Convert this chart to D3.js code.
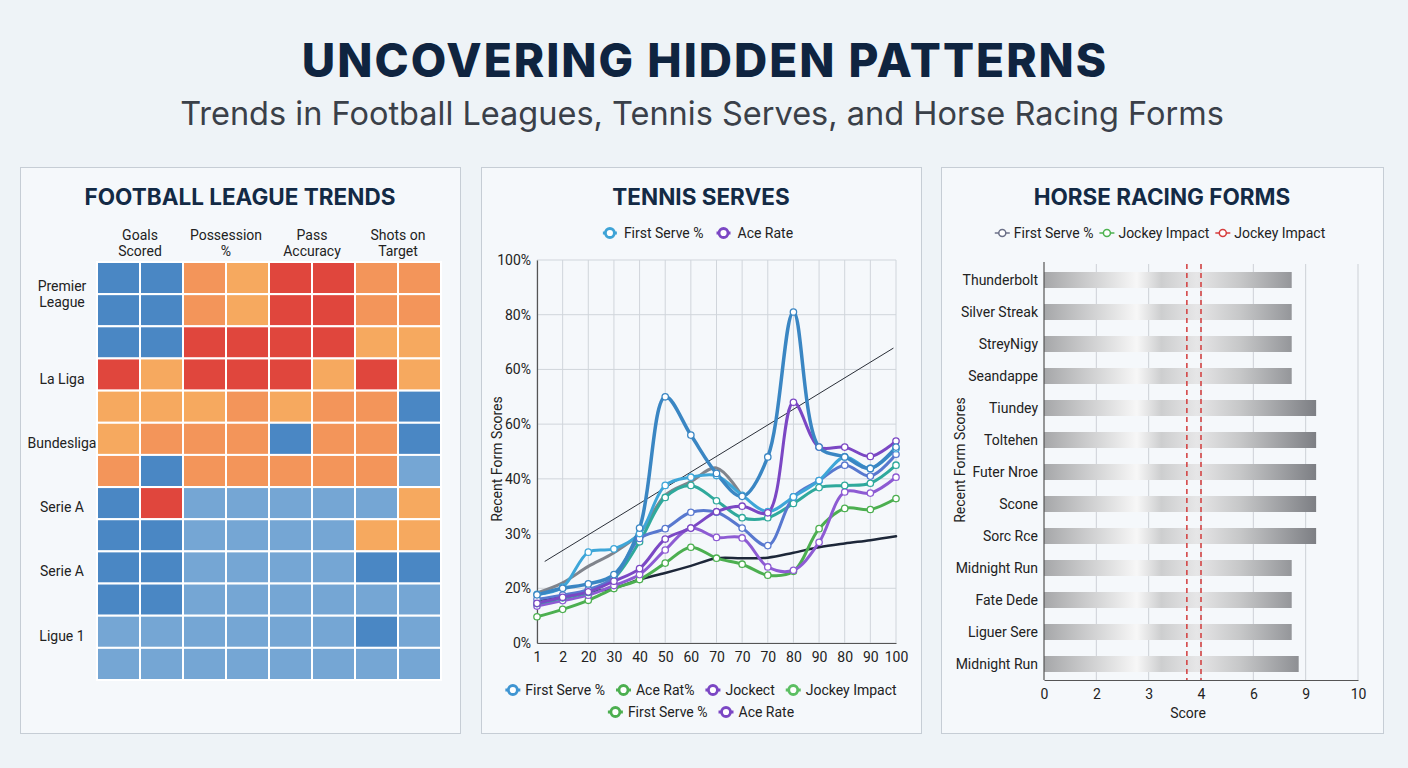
<!DOCTYPE html>
<html>
<head>
<meta charset="utf-8">
<script src="https://cdn.jsdelivr.net/npm/d3@7/dist/d3.min.js"></script>
<style>
  html, body { margin:0; padding:0; background:#eef3f7; }
  svg { display:block; }
  text { font-family: Roboto, "Liberation Sans", sans-serif; font-size:14px; fill:#222; }
  .main_title { font-family: Inter, sans-serif; font-weight:800; font-size:46px; letter-spacing:2px; fill:#0f2440; }
  .sub_title { font-family: Inter, sans-serif; font-weight:400; font-size:32.5px; fill:#3a4049; }
  .panel_title { font-family: Inter, sans-serif; font-weight:700; font-size:22.5px; fill:#132a45; }
  .tick text { font-size:14px; fill:#222; }
</style>
</head>
<body>
<svg id="main_view_svg" width="1408" height="768"></svg>
<script>
// DATA

// football heatmap: 1 = dark blue ... 5 = red
const football_metrics = [["Goals","Scored"],["Possession","%"],["Pass","Accuracy"],["Shots on","Target"]];
const football_leagues = [["Premier","League"],["La Liga"],["Bundesliga"],["Serie A"],["Serie A"],["Ligue 1"]];
const football_label_rows = [0.5, 3, 5, 7, 9, 11];
const football_levels = [1,2,3,4,5];
const heat_rows = [
  [1,1,4,3,5,5,4,4],
  [1,1,4,3,5,5,4,4],
  [1,1,5,5,5,5,3,3],
  [5,3,5,5,5,3,5,3],
  [3,3,3,4,3,4,4,1],
  [3,4,4,4,1,4,4,1],
  [4,1,4,4,4,4,4,2],
  [1,5,2,2,2,2,2,3],
  [1,1,2,2,2,2,3,3],
  [1,1,2,2,2,2,1,1],
  [1,1,2,2,2,2,2,2],
  [2,2,2,2,2,2,1,2],
  [2,2,2,2,2,2,2,2]
];

// tennis serves
const tennis_x_labels = ["1","2","20","30","40","50","60","70","70","70","80","90","80","90","100"];
const tennis_y_ticks  = [0,20,30,40,50,60,80,100];
const tennis_y_labels = ["0%","20%","30%","40%","60%","60%","80%","100%"];
const serve_trend     = [[0.3,24.9],[13.9,67.8]];
const gray_form       = [18.3,21,24,26.5,30,37,39.5,42,36.8];
const navy_form       = [15.6,17.3,18.7,20,21.6,22.8,24.1,25.5,25.5,25.6,26.5,27.5,28.2,28.8,29.5];
const ace_rat         = [9.6,12.3,15.6,19.9,21.6,24.6,27.5,25.5,24.4,22.4,23.1,30.9,34.6,34.4,36.4];
const jockect         = [13.5,15.5,17.5,20.5,22.5,27,31,29.3,29.2,23.9,23.3,28.4,37.6,37.4,40.3];
const jockey_impact   = [14.4,16.5,18.5,21.8,28.5,36.6,38.8,36,32.9,32.9,35.5,38.4,38.8,39.2,42.5];
const serve_violet    = [16,17.5,19.5,22,29.1,30.9,33.9,33.9,31,27.8,36.7,39.7,42.5,40.5,44.5];
const serve_cyan      = [17.8,20.2,26.6,27.2,30,38.8,40.3,40.6,37,34,36.7,39.7,44,41.9,45.5];
const ace_rate        = [14.5,16.7,18.7,21.3,23.6,29,31,34,35,33.8,54,45.8,45.8,44.1,46.9];
const first_serve     = [17.6,20,20.8,22.5,31,55,48,41,36.8,44,81,45.8,44,41.9,45.8];

const tennis_top_legend = [["First Serve %","#3ea3d6"],["Ace Rate","#7b47c4"]];
const tennis_bottom_legend_1 = [["First Serve %","#3f95d2"],["Ace Rat%","#4caf50"],["Jockect","#7b47c4"],["Jockey Impact","#5cbf63"]];
const tennis_bottom_legend_2 = [["First Serve %","#4caf50"],["Ace Rate","#7b47c4"]];

// horse racing
const horse_names  = ["Thunderbolt","Silver Streak","StreyNigy","Seandappe","Tiundey","Toltehen","Futer Nroe","Scone","Sorc Rce","Midnight Run","Fate Dede","Liguer Sere","Midnight Run"];
const horse_scores = [8.2,8.2,8.2,8.2,9.2,9.2,9.2,9.2,9.2,8.2,8.2,8.2,8.6];
const horse_ticks  = [0,2,3,4,6,9,10];
const jockey_marks = [3.73,4.0];
const horse_legend = [["First Serve %","#6b7088"],["Jockey Impact","#4cb24f"],["Jockey Impact","#d63c3c"]];

// RENDERING

const svg = d3.select("#main_view_svg");

svg.append("text").attr("class","main_title").attr("x",705).attr("y",77).attr("text-anchor","middle")
  .text("UNCOVERING HIDDEN PATTERNS");
svg.append("text").attr("class","sub_title").attr("x",702).attr("y",125).attr("text-anchor","middle")
  .text("Trends in Football Leagues, Tennis Serves, and Horse Racing Forms");

function draw_panel(x, w, title){
  const g = svg.append("g");
  g.append("rect")
    .attr("x",x+0.5).attr("y",167.5).attr("width",w).attr("height",566)
    .attr("fill","#f5f8fb").attr("stroke","#c6cdd5");
  g.append("text").attr("class","panel_title")
    .attr("x",x+w/2).attr("y",205).attr("text-anchor","middle").text(title);
  return g;
};

function draw_legend(g, items, cx, y, st){
  const row = g.append("g");
  let pos = 0;
  items.forEach(function(it){
    const item = row.append("g").attr("transform","translate("+pos+",0)");
    item.append("line").attr("x1",0).attr("x2",st.line).attr("y1",0).attr("y2",0)
      .attr("stroke",it[1]).attr("stroke-width",st.lw);
    item.append("circle").attr("cx",st.line/2).attr("cy",0).attr("r",st.r)
      .attr("fill","#fff").attr("stroke",it[1]).attr("stroke-width",st.sw);
    const t = item.append("text").attr("x",st.line+st.pad).attr("y",5).text(it[0]);
    pos += st.line + st.pad + t.node().getComputedTextLength() + st.gap;
  });
  pos -= st.gap;
  row.attr("transform","translate("+(cx-pos/2)+","+y+")");
};

function draw_football(g){
  const x = d3.scaleBand().domain(d3.range(8)).range([97,441]);
  const y = d3.scaleBand().domain(d3.range(heat_rows.length)).range([262,680]);
  const color = d3.scaleOrdinal().domain(football_levels)
    .range(["#4a87c4","#75a6d4","#f6a95f","#f3955a","#e0463d"]);

  heat_rows.forEach(function(row, r){
    g.selectAll(null).data(row).join("rect")
      .attr("x",(d,c)=>x(c)).attr("y",y(r))
      .attr("width",x.bandwidth()).attr("height",y.bandwidth())
      .attr("fill",d=>color(d))
      .attr("stroke","#ffffff").attr("stroke-width",2);
  });

  football_metrics.forEach(function(m,i){
    const cx = x(i*2) + x.bandwidth();
    const t = g.append("text").attr("text-anchor","middle").attr("y",240);
    m.forEach((line,j)=> t.append("tspan").attr("x",cx).attr("dy", j ? 15.5 : 0).text(line));
  });

  football_leagues.forEach(function(lg,i){
    const cy = y(0) + y.step()*(football_label_rows[i]+0.5);
    const t = g.append("text").attr("text-anchor","middle")
      .attr("y", lg.length > 1 ? cy - 3 : cy + 9);
    lg.forEach((line,j)=> t.append("tspan").attr("x",62).attr("dy", j ? 16 : 0).text(line));
  });
};

function draw_tennis(g){
  const x = d3.scaleLinear().domain([0,tennis_x_labels.length-1]).range([537,896]);
  const y = d3.scaleLinear().domain(tennis_y_ticks)
    .range(tennis_y_ticks.map((d,i)=> 643 - i*383/(tennis_y_ticks.length-1)));

  // grid
  g.selectAll(null).data(d3.range(tennis_x_labels.length)).join("line")
    .attr("x1",d=>x(d)).attr("x2",d=>x(d)).attr("y1",260).attr("y2",643)
    .attr("stroke","#d0d5db").attr("stroke-width",1);
  g.selectAll(null).data(tennis_y_ticks).join("line")
    .attr("x1",537).attr("x2",896).attr("y1",d=>y(d)).attr("y2",d=>y(d))
    .attr("stroke","#d0d5db").attr("stroke-width",1);

  const ax_y = g.append("g").attr("transform","translate(537,0)")
    .call(d3.axisLeft(y).tickValues(tennis_y_ticks).tickFormat((d,i)=>tennis_y_labels[i]).tickSize(0).tickPadding(6));
  const ax_x = g.append("g").attr("transform","translate(0,643)")
    .call(d3.axisBottom(x).tickValues(d3.range(tennis_x_labels.length)).tickFormat(i=>tennis_x_labels[i]).tickSize(0).tickPadding(9));
  [ax_y, ax_x].forEach(a => a.select(".domain").attr("stroke","#555").attr("stroke-width",1.2));

  g.append("text").attr("text-anchor","middle").attr("font-size","13.5px")
    .attr("transform","translate(502,459) rotate(-90)").text("Recent Form Scores");

  // lines
  g.append("line")
    .attr("x1",x(serve_trend[0][0])).attr("y1",y(serve_trend[0][1]))
    .attr("x2",x(serve_trend[1][0])).attr("y2",y(serve_trend[1][1]))
    .attr("stroke","#2a2f38").attr("stroke-width",1);

  const series = [
    {v:gray_form,     c:"#80848c", w:3,   m:false},
    {v:navy_form,     c:"#1d2739", w:2.5, m:false},
    {v:ace_rat,       c:"#4caf50", w:3,   m:true},
    {v:jockect,       c:"#8d5bd3", w:3,   m:true},
    {v:jockey_impact, c:"#2fa99c", w:3,   m:true},
    {v:serve_violet,  c:"#5878cf", w:3,   m:true},
    {v:serve_cyan,    c:"#3ea6d8", w:3,   m:true},
    {v:ace_rate,      c:"#7b47c4", w:3,   m:true},
    {v:first_serve,   c:"#3a86c3", w:3.5, m:true}
  ];
  const line = d3.line().x((d,i)=>x(i)).y(d=>y(d)).curve(d3.curveCatmullRom.alpha(0.5));

  series.forEach(function(s){
    g.append("path").attr("d",line(s.v)).attr("fill","none")
      .attr("stroke",s.c).attr("stroke-width",s.w)
      .attr("stroke-linejoin","round").attr("stroke-linecap","round");
  });
  series.filter(s=>s.m).forEach(function(s){
    g.selectAll(null).data(s.v).join("circle")
      .attr("cx",(d,i)=>x(i)).attr("cy",d=>y(d)).attr("r",3.2)
      .attr("fill","#fff").attr("stroke",s.c).attr("stroke-width",1.3);
  });

  const st = {line:15, r:4.5, sw:2.8, lw:3, pad:5, gap:11};
  draw_legend(g, tennis_top_legend, 698, 233, {line:14, r:4.5, sw:2.8, lw:3, pad:7, gap:13});
  draw_legend(g, tennis_bottom_legend_1, 701, 690, st);
  draw_legend(g, tennis_bottom_legend_2, 701, 712, st);
};

function draw_horses(g){
  const x = d3.scaleLinear().domain(horse_ticks)
    .range(horse_ticks.map((d,i)=> 1044 + i*314/(horse_ticks.length-1)));
  const y = d3.scaleBand().domain(d3.range(horse_names.length)).range([264,680])
    .paddingInner(0.5).paddingOuter(0.25);

  const grad = svg.append("defs").append("linearGradient").attr("id","bar_grad")
    .attr("gradientUnits","userSpaceOnUse").attr("x1",1044).attr("x2",1317).attr("y1",0).attr("y2",0);
  [[0,"#a6a7a9"],[0.34,"#f7f7f7"],[0.43,"#cdcecf"],[0.56,"#e6e6e7"],[0.72,"#c6c7c8"],[1,"#7c7e83"]]
    .forEach(s => grad.append("stop").attr("offset",s[0]).attr("stop-color",s[1]));

  g.selectAll(null).data(horse_ticks.slice(1)).join("line")
    .attr("x1",d=>x(d)).attr("x2",d=>x(d)).attr("y1",264).attr("y2",680)
    .attr("stroke","#cdd1d6").attr("stroke-width",1);

  g.selectAll(null).data(horse_scores).join("rect")
    .attr("x",x(0)).attr("y",(d,i)=>y(i))
    .attr("width",d=>x(d)-x(0)).attr("height",y.bandwidth())
    .attr("fill","url(#bar_grad)");

  g.selectAll(null).data(jockey_marks).join("line")
    .attr("x1",d=>x(d)).attr("x2",d=>x(d)).attr("y1",264).attr("y2",680)
    .attr("stroke","#d23b3b").attr("stroke-width",1.5).attr("stroke-dasharray","5,4");

  g.selectAll(null).data(horse_names).join("text")
    .attr("x",1038).attr("y",(d,i)=>y(i)+y.bandwidth()/2+5)
    .attr("text-anchor","end").text(d=>d);

  const ax_x = g.append("g").attr("transform","translate(0,680)")
    .call(d3.axisBottom(x).tickValues(horse_ticks).tickFormat(d3.format("d")).tickSize(0).tickPadding(9));
  ax_x.select(".domain").attr("stroke","#555").attr("stroke-width",1.2);
  g.append("line").attr("x1",1044).attr("x2",1044).attr("y1",262).attr("y2",680)
    .attr("stroke","#555").attr("stroke-width",1.2);

  g.append("text").attr("x",1188).attr("y",718).attr("text-anchor","middle").text("Score");
  g.append("text").attr("text-anchor","middle").attr("font-size","13.5px")
    .attr("transform","translate(965,460) rotate(-90)").text("Recent Form Scores");

  draw_legend(g, horse_legend, 1160, 233, {line:15, r:3.5, sw:1.5, lw:1.5, pad:4, gap:6});
};

draw_football(draw_panel(20, 440, "FOOTBALL LEAGUE TRENDS"));
draw_tennis(draw_panel(481, 440, "TENNIS SERVES"));
draw_horses(draw_panel(941, 442, "HORSE RACING FORMS"));
</script>
</body>
</html>
